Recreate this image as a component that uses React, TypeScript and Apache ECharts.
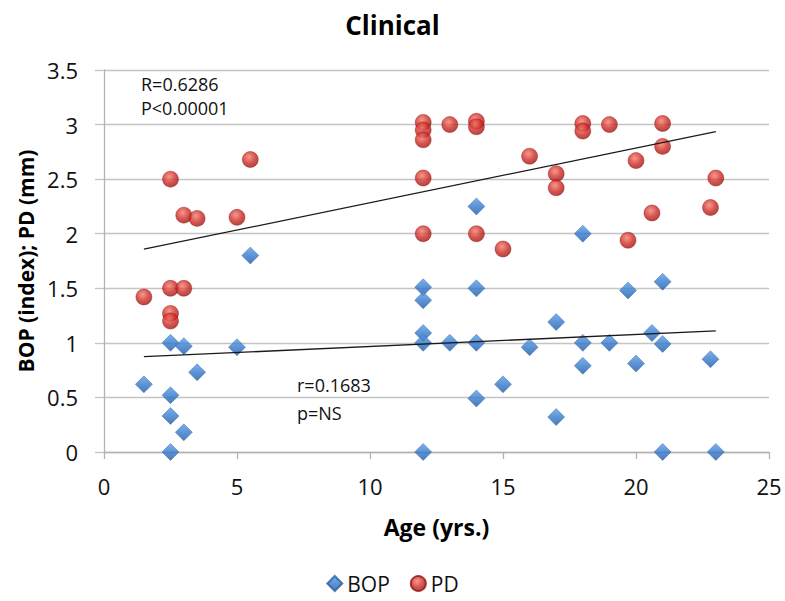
import React, { useEffect, useRef } from "react";
import * as echarts from "echarts";

const chartTitle = "Clinical";
const xAxisName = "Age (yrs.)";
const yAxisName = "BOP (index); PD (mm)";

const bopAge = [1.5, 2.5, 2.5, 2.5, 2.5, 3, 3, 3.5, 5, 5.5, 12, 12, 12, 12, 12, 13, 14, 14, 14, 14, 15, 16, 17, 17, 18, 18, 18, 19, 19.7, 20, 20.6, 21, 21, 21, 22.8, 23];
const bopValue = [0.62, 1.0, 0.52, 0.33, 0, 0.97, 0.18, 0.73, 0.96, 1.8, 1.51, 1.39, 1.09, 1.0, 0, 1.0, 2.25, 1.5, 1.0, 0.49, 0.62, 0.96, 1.19, 0.32, 2.0, 1.0, 0.79, 1.0, 1.48, 0.81, 1.09, 1.56, 0.99, 0, 0.85, 0];

const pdAge = [1.5, 2.5, 2.5, 2.5, 2.5, 3, 3, 3.5, 5, 5.5, 12, 12, 12, 12, 12, 13, 14, 14, 14, 15, 16, 17, 17, 18, 18, 19, 19.7, 20, 20.6, 21, 21, 22.8, 23];
const pdValue = [1.42, 2.5, 1.5, 1.27, 1.2, 2.17, 1.5, 2.14, 2.15, 2.68, 3.02, 2.95, 2.86, 2.51, 2.0, 3.0, 3.03, 2.98, 2.0, 1.86, 2.71, 2.55, 2.42, 3.01, 2.94, 3.0, 1.94, 2.67, 2.19, 3.01, 2.8, 2.24, 2.51];

const trendAge = [1.5, 23];
const pdTrend = [1.858, 2.936];
const bopTrend = [0.873, 1.11];

const pdStats = ["R=0.6286", "P<0.00001"];
const bopStats = ["r=0.1683", "p=NS"];

const xTicks = { min: 0, max: 25, interval: 5 };
const yTicks = { min: 0, max: 3.5, interval: 0.5 };

const FONT = '"Open Sans", "Noto Sans", sans-serif';

export default function App() {
  const ref = useRef<HTMLDivElement>(null);
  useEffect(() => {
    document.body.style.margin = "0";
    if (!ref.current) return;
    const chart = echarts.init(ref.current, null, { renderer: "svg" });
    const zip = (a: number[], b: number[]) => a.map((v, i) => [v, b[i]]);
    const blue = new echarts.graphic.LinearGradient(0, 0, 0, 1, [
      { offset: 0, color: "#5a9de8" },
      { offset: 0.5, color: "#3479cc" },
      { offset: 1, color: "#1d59a6" },
    ]);
    const red = new echarts.graphic.RadialGradient(0.42, 0.35, 0.7, [
      { offset: 0, color: "#f27e72" },
      { offset: 0.55, color: "#cf2b25" },
      { offset: 1, color: "#931310" },
    ]);
    const option: any = {
      animation: false,
      textStyle: { fontFamily: FONT },
      title: {
        text: chartTitle,
        left: "center",
        top: 7,
        textStyle: { fontSize: 26, fontWeight: "bold", color: "#000", fontFamily: FONT },
      },
      grid: { left: 104, right: 16, top: 70, bottom: 149, containLabel: false },
      legend: {
        top: 568,
        left: "center",
        itemWidth: 15,
        itemHeight: 15,
        itemGap: 20,
        textStyle: { fontSize: 21, color: "#111", fontFamily: FONT },
        data: [
          { name: "BOP", icon: "diamond", itemStyle: { color: blue } },
          { name: "PD", icon: "circle", itemStyle: { color: red } },
        ],
      },
      xAxis: {
        type: "value",
        min: xTicks.min,
        max: xTicks.max,
        interval: xTicks.interval,
        name: xAxisName,
        nameLocation: "middle",
        nameGap: 63,
        nameTextStyle: { fontSize: 23, fontWeight: "bold", color: "#000", fontFamily: FONT },
        axisLine: { show: true, lineStyle: { color: "#b3b3b3", width: 1.3 } },
        axisTick: { show: true, length: 7, lineStyle: { color: "#b3b3b3", width: 1.3 } },
        axisLabel: { fontSize: 22, color: "#111", margin: 23 },
        splitLine: { show: false },
      },
      yAxis: {
        type: "value",
        min: yTicks.min,
        max: yTicks.max,
        interval: yTicks.interval,
        name: yAxisName,
        nameLocation: "middle",
        nameGap: 68,
        nameTextStyle: { fontSize: 21, fontWeight: "bold", color: "#000", fontFamily: FONT },
        axisLine: { show: true, lineStyle: { color: "#b3b3b3", width: 1.3 } },
        axisTick: { show: true, length: 9, lineStyle: { color: "#c4c4c4", width: 1.3 } },
        axisLabel: { fontSize: 22, color: "#111", margin: 26 },
        splitLine: { show: true, lineStyle: { color: "#c4c4c4", width: 1.3 } },
      },
      series: [
        {
          name: "BOP",
          type: "scatter",
          symbol: "diamond",
          symbolSize: 17,
          itemStyle: { color: blue, borderColor: "#2a5f9e", borderWidth: 0.5 },
          data: zip(bopAge, bopValue),
          z: 3,
        },
        {
          name: "PD",
          type: "scatter",
          symbol: "circle",
          symbolSize: 16,
          itemStyle: { color: red, borderColor: "#8f1512", borderWidth: 0.5 },
          data: zip(pdAge, pdValue),
          z: 3,
        },
        {
          name: "PD trend",
          type: "line",
          data: zip(trendAge, pdTrend),
          symbol: "none",
          lineStyle: { color: "#1a1a1a", width: 1.3 },
          z: 4,
        },
        {
          name: "BOP trend",
          type: "line",
          data: zip(trendAge, bopTrend),
          symbol: "none",
          lineStyle: { color: "#1a1a1a", width: 1.3 },
          z: 4,
        },
      ],
      graphic: [
        {
          type: "text",
          left: 141,
          top: 72,
          style: { text: pdStats.join("\n"), fontSize: 18, lineHeight: 24, fill: "#111", fontFamily: FONT },
        },
        {
          type: "text",
          left: 297,
          top: 371,
          style: { text: bopStats.join("\n"), fontSize: 18, lineHeight: 28, fill: "#111", fontFamily: FONT },
        },
      ],
    };
    chart.setOption(option);
    return () => chart.dispose();
  }, []);
  return <div ref={ref} style={{ width: 785, height: 601 }} />;
}
